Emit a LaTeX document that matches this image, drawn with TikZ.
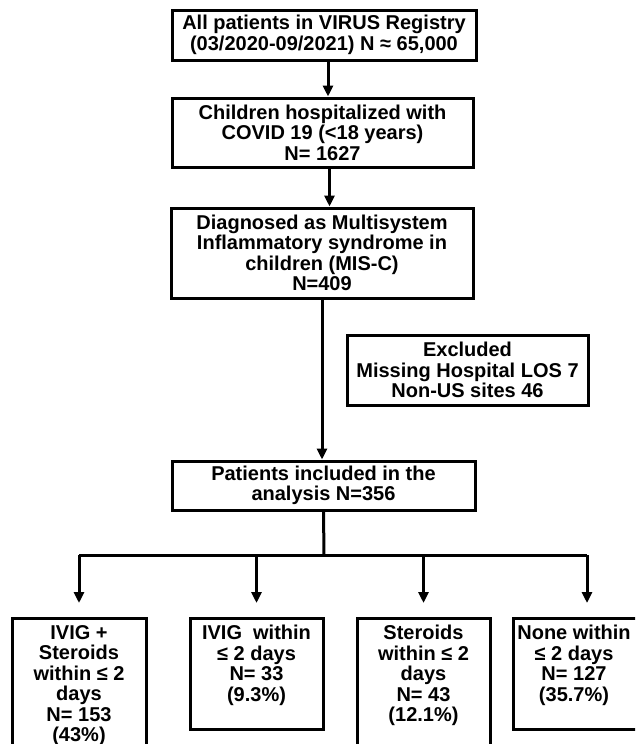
\documentclass[tikz,border=0pt]{standalone}
\usepackage{fontspec}
\setmainfont{Liberation Sans}
\usetikzlibrary{arrows.meta,positioning,calc}

\tikzset{
  flowfont/.style={font=\bfseries\fontsize{20}{20.5}\selectfont},
  flowbox/.style={draw, line width=3pt, align=center, flowfont, inner sep=0pt},
  armtext/.style={align=center, flowfont, anchor=north, inner sep=0pt},
  flowline/.style={line width=3pt},
  flowarrow/.style={line width=3pt, -{Triangle[width=10pt,length=11pt]}}
}

\begin{document}
\begin{tikzpicture}[x=1pt, y=-1pt]
    \useasboundingbox (0,0) rectangle (635,744);
    \clip (0,0) rectangle (635,744);

    % Main column
    \node[flowbox, minimum width=304pt, minimum height=50pt] (registry) at (324,35)
        {All patients in VIRUS Registry\\(03/2020-09/2021) N ≈ 65,000};
    \node[flowbox, minimum width=301pt, minimum height=69pt] (hosp) at (322.5,132.5)
        {Children hospitalized with\\COVID 19 (<18 years)\\N= 1627};
    \node[flowbox, minimum width=302pt, minimum height=90pt] (misc) at (322,253)
        {Diagnosed as Multisystem\\Inflammatory syndrome in\\children (MIS-C)\\N=409};
    \node[flowbox, minimum width=241pt, minimum height=70pt] (excl) at (467.5,370)
        {Excluded\\Missing Hospital LOS 7\\Non-US sites 46};
    \node[flowbox, minimum width=303pt, minimum height=49pt] (incl) at (323.5,485.5)
        {Patients included in the\\analysis N=356};

    \draw[flowarrow] ([xshift=4pt]registry.south) -- ([xshift=4pt]registry.south |- hosp.north);
    \draw[flowarrow] ([xshift=7pt]hosp.south) -- ([xshift=7pt]hosp.south |- misc.north);
    \draw[flowarrow] (misc.south) -- (misc.south |- incl.north);

    % Treatment arms
    \node[flowbox, anchor=north, minimum width=134pt, minimum height=150pt] (ivst) at (79,617) {};
    \node[flowbox, anchor=north, minimum width=133pt, minimum height=111pt] (ivig) at (256.5,617) {};
    \node[flowbox, anchor=north, minimum width=133pt, minimum height=150pt] (ster) at (423.5,617) {};
    \node[flowbox, anchor=north, minimum width=148pt, minimum height=111pt] (none) at (587,617) {};

    \node[armtext, below=8pt of ivst.north] (ivsttext)
        {IVIG +\\Steroids\\within ≤ 2\\days\\N= 153\\(43\%)};
    \node[armtext, below=8pt of ivig.north] (ivigtext)
        {IVIG\ \ within\\≤ 2 days\\N= 33\\(9.3\%)};
    \node[armtext, below=8pt of ster.north] (stertext)
        {Steroids\\within ≤ 2\\days\\N= 43\\(12.1\%)};
    \node[armtext] (nonetext) at (574,625)
        {None within\\≤ 2 days\\N= 127\\(35.7\%)};

    \coordinate (bus) at (324,555);
    \draw[flowline] (incl.south) -- (bus);
    \draw[flowline] (bus -| ivst.north) -- (bus -| none.north);
    \foreach \arm in {ivst, ivig, ster, none}
        \draw[flowarrow] (bus -| \arm.north) -- ($(\arm.north)+(0,-14)$);
\end{tikzpicture}
\end{document}
